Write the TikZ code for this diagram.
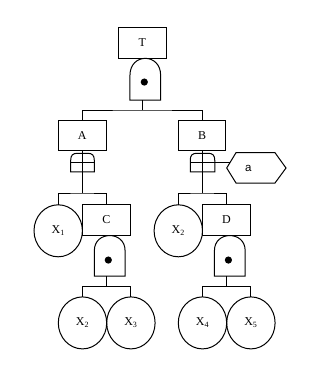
\documentclass[tikz,border=0pt]{standalone}
\usepackage{fontspec}
\setmainfont{Liberation Serif}
\newfontfamily\sansf{Liberation Sans}
\usetikzlibrary{calc,shapes.geometric}
\newcommand\andshape[2]{%
  \draw (#1.south west) -- ($(#1.north west)+(0,#2)$)
    .. controls ($(#1.north west)+(0,0.35*#2)$) and ($(#1.north)+(-8,0)$) .. (#1.north)
    .. controls ($(#1.north)+(8,0)$) and ($(#1.north east)+(0,0.35*#2)$) .. ($(#1.north east)+(0,#2)$)
    -- (#1.south east) -- cycle;}
\newcommand\orshape[1]{%
  \draw (#1.south west) -- ($(#1.north west)+(0,7)$)
    .. controls ($(#1.north west)+(0,2)$) and ($(#1.north west)+(2,0)$) .. ($(#1.north west)+(7,0)$)
    -- ($(#1.north east)+(-7,0)$)
    .. controls ($(#1.north east)+(-2,0)$) and ($(#1.north east)+(0,2)$) .. ($(#1.north east)+(0,7)$)
    -- (#1.south east) -- cycle;
  \draw (#1.west) -- (#1.east);}
\begin{document}
\begin{tikzpicture}[x=1pt,y=-1pt,line width=1pt,
  evbox/.style={draw,rectangle,minimum width=47.7pt,minimum height=30.8pt,inner sep=0pt,outer sep=0pt,font=\fontsize{12}{14}\selectfont},
  basic/.style={draw,ellipse,minimum width=48.4pt,minimum height=52pt,inner sep=0pt,outer sep=0pt,font=\fontsize{12}{14}\selectfont},
  gatearea/.style={rectangle,inner sep=0pt,outer sep=0pt},
  hexlabel/.style={inner sep=0pt,outer sep=0pt,font=\sansf\fontsize{11.5}{13}\selectfont}]
\useasboundingbox (0,0) rectangle (330,372);
% events
\node[evbox] (T) at (142.2,42.8) {T};
\node[evbox] (A) at (82.2,135.5) {A};
\node[evbox] (B) at (202,135.5) {B};
\node[evbox] (C) at (106.5,219.7) {C};
\node[evbox] (D) at (226.5,219.7) {D};
% gates
\node[gatearea,minimum width=30.7pt,minimum height=41.7pt] (gT) at (145.3,79.2) {};
\node[gatearea,minimum width=23.6pt,minimum height=18.7pt] (gA) at (82.5,162.6) {};
\node[gatearea,minimum width=24.5pt,minimum height=18.7pt] (gB) at (202.5,162.6) {};
\node[gatearea,minimum width=30.7pt,minimum height=40.5pt] (gC) at (109.7,255.8) {};
\node[gatearea,minimum width=30.7pt,minimum height=40.5pt] (gD) at (229.8,255.8) {};
\andshape{gT}{17}
\andshape{gC}{15}
\andshape{gD}{15}
\orshape{gA}
\orshape{gB}
\fill ($(gT.south)+(-1,-18)$) circle[radius=3.6];
\fill ($(gC.south)+(-1.4,-16)$) circle[radius=3.6];
\fill ($(gD.south)+(-1.4,-16)$) circle[radius=3.6];
% basic events
\node[basic] (X1) at (58.2,230.8) {X\textsubscript{1}};
\node[basic] (X2b) at (178.3,230.8) {X\textsubscript{2}};
\node[basic] (X2) at (82.5,322.9) {X\textsubscript{2}};
\node[basic] (X3) at (130.9,322.9) {X\textsubscript{3}};
\node[basic] (X4) at (202.5,322.9) {X\textsubscript{4}};
\node[basic] (X5) at (250.9,322.9) {X\textsubscript{5}};
% condition hexagon
\node[hexlabel] (hx) at (248.3,168) {a};
\draw ($(hx)+(-21.6,0)$) -- ($(hx)+(-12.3,-15.3)$) -- ($(hx)+(26.7,-15.3)$) -- ($(hx)+(37.7,0)$) -- ($(hx)+(26.7,15)$) -- ($(hx)+(-12.3,15)$) -- cycle;
\coordinate (hxin) at ($(hx)+(-18.3,-5.4)$);
% bus coordinates
\coordinate (busT) at (142.2,110);
\coordinate (busA) at (82.2,193);
\coordinate (busB) at (202,193);
\coordinate (busC) at (106.5,286.7);
\coordinate (busD) at (226.5,286.7);
% connectors
\draw (gT.south -| T.south) -- (busT);
\draw (A.north) |- (busT) -| (B.north);
\draw (A.south) -- (busA);
\draw (B.south) -- (busB);
\draw (X1.north) |- (busA) -| (C.north);
\draw (X2b.north) |- (busB) -| (D.north);
\draw (gC.south -| C.south) -- (busC);
\draw (gD.south -| D.south) -- (busD);
\draw (X2.north) |- (busC) -| (X3.north);
\draw (X4.north) |- (busD) -| (X5.north);
\draw (gB.east) -- (hxin);
\end{tikzpicture}
\end{document}
